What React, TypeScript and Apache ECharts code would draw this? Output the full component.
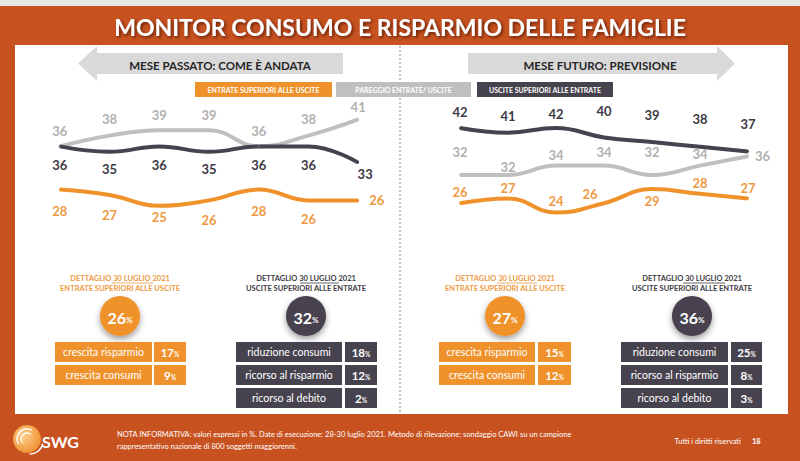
import React, { useEffect, useRef } from "react";
import * as echarts from "echarts";

const months = ["gennaio", "febbraio", "marzo", "aprile", "maggio", "giugno", "luglio"];
const year = "2021";

const pastEntrate = [28, 27, 25, 26, 28, 26, 26];
const pastPareggio = [36, 38, 39, 39, 36, 38, 41];
const pastUscite = [36, 35, 36, 35, 36, 36, 33];

const futEntrate = [26, 27, 24, 26, 29, 28, 27];
const futPareggio = [32, 32, 34, 34, 32, 34, 36];
const futUscite = [42, 41, 42, 40, 39, 38, 37];

const legendNames = ["ENTRATE SUPERIORI ALLE USCITE", "PAREGGIO ENTRATE/ USCITE", "USCITE SUPERIORI ALLE ENTRATE"];

const entrateItems = ["crescita risparmio", "crescita consumi"];
const usciteItems = ["riduzione consumi", "ricorso al risparmio", "ricorso al debito"];

const pastEntrateTot = 26;
const pastEntrateVals = [17, 9];
const pastUsciteTot = 32;
const pastUsciteVals = [18, 12, 2];
const futEntrateTot = 27;
const futEntrateVals = [15, 12];
const futUsciteTot = 36;
const futUsciteVals = [25, 8, 3];

const titleText = "MONITOR CONSUMO E RISPARMIO DELLE FAMIGLIE";
const pastTitle = "MESE PASSATO: COME È ANDATA";
const futTitle = "MESE FUTURO: PREVISIONE";
const noteLine1 = "NOTA INFORMATIVA: valori espressi in %. Date di esecuzione: 28-30 luglio 2021. Metodo di rilevazione: sondaggio CAWI su un campione";
const noteLine2 = "rappresentativo nazionale di 800 soggetti maggiorenni.";
const rightsText = "Tutti i diritti riservati";
const pageNum = "18";

const BG = "#c7521f";
const OR = "#f0922b";
const ORL = "#ee9a44";
const GR = "#bfbfbf";
const GRL = "#b0b0b0";
const DK = "#47434e";
const DKL = "#3d3a43";
const FONT = "Lato";

type LC = { p: string; d: number; dx?: number };

const pastOrLab: LC[] = [
  { p: "bottom", d: 14 }, { p: "bottom", d: 12 }, { p: "bottom", d: 4 }, { p: "bottom", d: 12 },
  { p: "bottom", d: 14 }, { p: "bottom", d: 11 }, { p: "right", d: 10 },
];
const pastGrLab: LC[] = [
  { p: "top", d: 8 }, { p: "top", d: 9 }, { p: "top", d: 8 }, { p: "top", d: 8 },
  { p: "top", d: 8 }, { p: "top", d: 9 }, { p: "top", d: 5 },
];
const pastDkLab: LC[] = [
  { p: "bottom", d: 11 }, { p: "bottom", d: 10 }, { p: "bottom", d: 11 }, { p: "bottom", d: 10 },
  { p: "bottom", d: 11 }, { p: "bottom", d: 11 }, { p: "bottom", d: 4, dx: 7 },
];
const futOrLab: LC[] = [
  { p: "top", d: 4 }, { p: "top", d: 3 }, { p: "top", d: 4 }, { p: "top", d: 2, dx: -14 },
  { p: "bottom", d: 4 }, { p: "top", d: 3 }, { p: "top", d: 3 },
];
const futGrLab: LC[] = [
  { p: "top", d: 16 }, { p: "top", d: 1 }, { p: "top", d: 3 }, { p: "top", d: 6 },
  { p: "top", d: 16 }, { p: "top", d: 4 }, { p: "right", d: 6 },
];
const futDkLab: LC[] = [
  { p: "top", d: 9 }, { p: "top", d: 9 }, { p: "top", d: 7 }, { p: "top", d: 19 },
  { p: "top", d: 20 }, { p: "top", d: 20 }, { p: "top", d: 20 },
];

function lineSeries(data: number[], color: string, labelColor: string, idx: number, lab: LC[]) {
  return {
    type: "line",
    xAxisIndex: idx,
    yAxisIndex: idx,
    smooth: 0.45,
    symbol: "circle",
    symbolSize: 2,
    itemStyle: { color },
    lineStyle: { color, width: 4 },
    label: {
      show: true,
      color: labelColor,
      fontFamily: FONT,
      fontWeight: "bold",
      fontSize: 13,
    },
    data: data.map((v, i) => ({
      value: v,
      label: { position: lab[i].p, distance: lab[i].d, offset: [lab[i].dx || 0, 0] },
    })),
  };
}

function txt(x: number, y: number, text: string, size: number, fill: string, weight = "normal", align = "center", extra: any = {}) {
  return {
    type: "text",
    x,
    y,
    z: 20,
    style: { text, fontSize: size, fontFamily: FONT, fontWeight: weight, fill, align, verticalAlign: "middle", ...extra },
  };
}

function detail(
  cx: number,
  color: string,
  headColor: string,
  headLine2: string,
  total: number,
  labels: string[],
  values: number[],
  lab: [number, number],
  val: [number, number],
  ul: [number, number]
) {
  const els: any[] = [];
  els.push(txt(cx, 278, "DETTAGLIO 30 LUGLIO 2021", 7.5, headColor, "bold"));
  els.push({ type: "line", z: 20, shape: { x1: ul[0], y1: 283, x2: ul[1], y2: 283 }, style: { stroke: headColor, lineWidth: 0.8 } });
  els.push(txt(cx, 288.5, headLine2, 7.5, headColor, "bold"));
  els.push({
    type: "circle",
    z: 15,
    shape: { cx, cy: 316, r: 20 },
    style: { fill: color, shadowBlur: 6, shadowColor: "rgba(0,0,0,0.4)", shadowOffsetY: 3 },
  });
  els.push({
    type: "text",
    z: 20,
    x: cx,
    y: 317,
    style: {
      text: `{n|${total}}{p|%}`,
      align: "center",
      verticalAlign: "middle",
      rich: {
        n: { fontSize: 16, fontWeight: "bold", fontFamily: FONT, fill: "#fff" },
        p: { fontSize: 8, fontWeight: "bold", fontFamily: FONT, fill: "#fff", padding: [6, 0, 0, 0] },
      },
    },
  });
  labels.forEach((l, i) => {
    const y0 = 342 + i * 23;
    els.push({ type: "rect", z: 15, shape: { x: lab[0], y: y0, width: lab[1] - lab[0], height: 20 }, style: { fill: color } });
    els.push({ type: "rect", z: 15, shape: { x: val[0], y: y0, width: val[1] - val[0], height: 20 }, style: { fill: color } });
    els.push(txt((lab[0] + lab[1]) / 2, y0 + 10, l, 10.5, "#ffffff"));
    els.push({
      type: "text",
      z: 20,
      x: (val[0] + val[1]) / 2,
      y: y0 + 10.5,
      style: {
        text: `{n|${values[i]}}{p|%}`,
        align: "center",
        verticalAlign: "middle",
        rich: {
          n: { fontSize: 11.5, fontWeight: "bold", fontFamily: FONT, fill: "#fff" },
          p: { fontSize: 6.5, fontWeight: "bold", fontFamily: FONT, fill: "#fff", padding: [3, 0, 0, 0] },
        },
      },
    });
  });
  return els;
}

export default function App() {
  const ref = useRef<HTMLDivElement>(null);
  useEffect(() => {
    document.body.style.margin = "0";
    const chart = echarts.init(ref.current!, undefined, { renderer: "svg" });

    const xAxisBase = {
      type: "category",
      data: months,
      boundaryGap: true,
      axisLine: { lineStyle: { color: "#8c8c8c", width: 1 } },
      axisTick: { show: false },
      axisLabel: {
        color: "#404040",
        fontSize: 8,
        fontFamily: FONT,
        lineHeight: 12.5,
        margin: 4,
        formatter: (v: string) => `${v}\n${year}`,
      },
    };

    const graphics: any[] = [
      { type: "rect", z: 0, shape: { x: 0, y: 0, width: 800, height: 461 }, style: { fill: BG } },
      { type: "rect", z: 1, shape: { x: 0, y: 0, width: 800, height: 6 }, style: { fill: "#e7e7e7" } },
      { type: "rect", z: 1, shape: { x: 15, y: 45, width: 773, height: 369 }, style: { fill: "#ffffff" } },
      {
        type: "line",
        z: 2,
        shape: { x1: 400, y1: 46, x2: 400, y2: 413 },
        style: { stroke: "#8a8a8a", lineWidth: 1, lineDash: [2, 2] },
      },
      txt(400, 27, titleText, 23, "#ffffff", "bold", "center", {
        textShadowColor: "rgba(60,20,0,0.75)",
        textShadowBlur: 3,
        textShadowOffsetX: 1.5,
        textShadowOffsetY: 1.5,
      }),
      {
        type: "polygon",
        z: 3,
        shape: { points: [[78, 63.5], [97, 46], [97, 53], [343, 53], [343, 74], [97, 74], [97, 81]] },
        style: { fill: "#d9d9d9" },
      },
      {
        type: "polygon",
        z: 3,
        shape: { points: [[468, 53], [717, 53], [717, 46], [735, 63.5], [717, 81], [717, 74], [468, 74]] },
        style: { fill: "#d9d9d9" },
      },
      txt(220, 65, pastTitle, 11.5, "#262626", "bold"),
      txt(600, 65, futTitle, 11.5, "#262626", "bold"),
      { type: "rect", z: 3, shape: { x: 195, y: 82, width: 137, height: 15 }, style: { fill: OR } },
      { type: "rect", z: 3, shape: { x: 336, y: 82, width: 135, height: 15 }, style: { fill: GR } },
      { type: "rect", z: 3, shape: { x: 477, y: 82, width: 136, height: 15 }, style: { fill: DK } },
      txt(263.5, 89.5, legendNames[0], 7, "#ffffff", "bold"),
      txt(403.5, 89.5, legendNames[1], 7, "#ffffff", "bold"),
      txt(545, 89.5, legendNames[2], 7, "#ffffff", "bold"),
      ...detail(120, OR, ORL, legendNames[0], pastEntrateTot, entrateItems, pastEntrateVals, [55, 152], [154, 186], [112, 153]),
      ...detail(306, DK, DKL, legendNames[2], pastUsciteTot, usciteItems, pastUsciteVals, [236, 342], [345, 377], [300, 339]),
      ...detail(505, OR, ORL, legendNames[0], futEntrateTot, entrateItems, futEntrateVals, [439, 535], [538, 571], [497, 537]),
      ...detail(692, DK, DKL, legendNames[2], futUsciteTot, usciteItems, futUsciteVals, [621, 728], [731, 762], [683, 725]),
      // footer logo
      {
        type: "circle",
        z: 5,
        shape: { cx: 27, cy: 439, r: 14 },
        style: {
          fill: new echarts.graphic.RadialGradient(0.4, 0.4, 0.7, [
            { offset: 0, color: "#ffd08a" },
            { offset: 1, color: "#ef8a2a" },
          ]),
        },
      },
      { type: "arc", z: 6, shape: { cx: 27, cy: 439, r: 10, startAngle: 2.6, endAngle: 5.2 }, style: { stroke: "#ffffff", lineWidth: 1.6, fill: "none" } },
      { type: "arc", z: 6, shape: { cx: 27, cy: 439, r: 6, startAngle: 2.4, endAngle: 5.4 }, style: { stroke: "#ffffff", lineWidth: 1.4, fill: "none" } },
      { type: "arc", z: 6, shape: { cx: 30, cy: 441, r: 13, startAngle: 0.2, endAngle: 1.6 }, style: { stroke: "#ffffff", lineWidth: 1.4, fill: "none" } },
      txt(42, 441, "SWG", 16, "#ffffff", "bold", "left"),
      txt(117, 434, noteLine1, 7.5, "#ffffff", "normal", "left"),
      txt(117, 446, noteLine2, 7.5, "#ffffff", "normal", "left"),
      txt(741, 441, rightsText, 7.5, "#ffffff", "normal", "right"),
      txt(752, 441, pageNum, 7.5, "#ffffff", "bold", "left"),
    ];

    chart.setOption({
      animation: false,
      textStyle: { fontFamily: FONT },
      graphic: { elements: graphics },
      grid: [
        { left: 35, width: 348, top: 103.2, height: 118.8 },
        { left: 436, width: 336, top: 109.2, height: 112.8 },
      ],
      xAxis: [
        { ...xAxisBase, gridIndex: 0 },
        { ...xAxisBase, gridIndex: 1 },
      ],
      yAxis: [
        { type: "value", gridIndex: 0, min: 22, max: 44, show: false, splitLine: { show: false } },
        { type: "value", gridIndex: 1, min: 22, max: 46, show: false, splitLine: { show: false } },
      ],
      series: [
        lineSeries(pastEntrate, OR, ORL, 0, pastOrLab),
        lineSeries(pastPareggio, GR, GRL, 0, pastGrLab),
        lineSeries(pastUscite, DK, DKL, 0, pastDkLab),
        lineSeries(futEntrate, OR, ORL, 1, futOrLab),
        lineSeries(futPareggio, GR, GRL, 1, futGrLab),
        lineSeries(futUscite, DK, DKL, 1, futDkLab),
      ],
    });
    return () => chart.dispose();
  }, []);
  return <div ref={ref} style={{ width: 800, height: 461 }} />;
}
